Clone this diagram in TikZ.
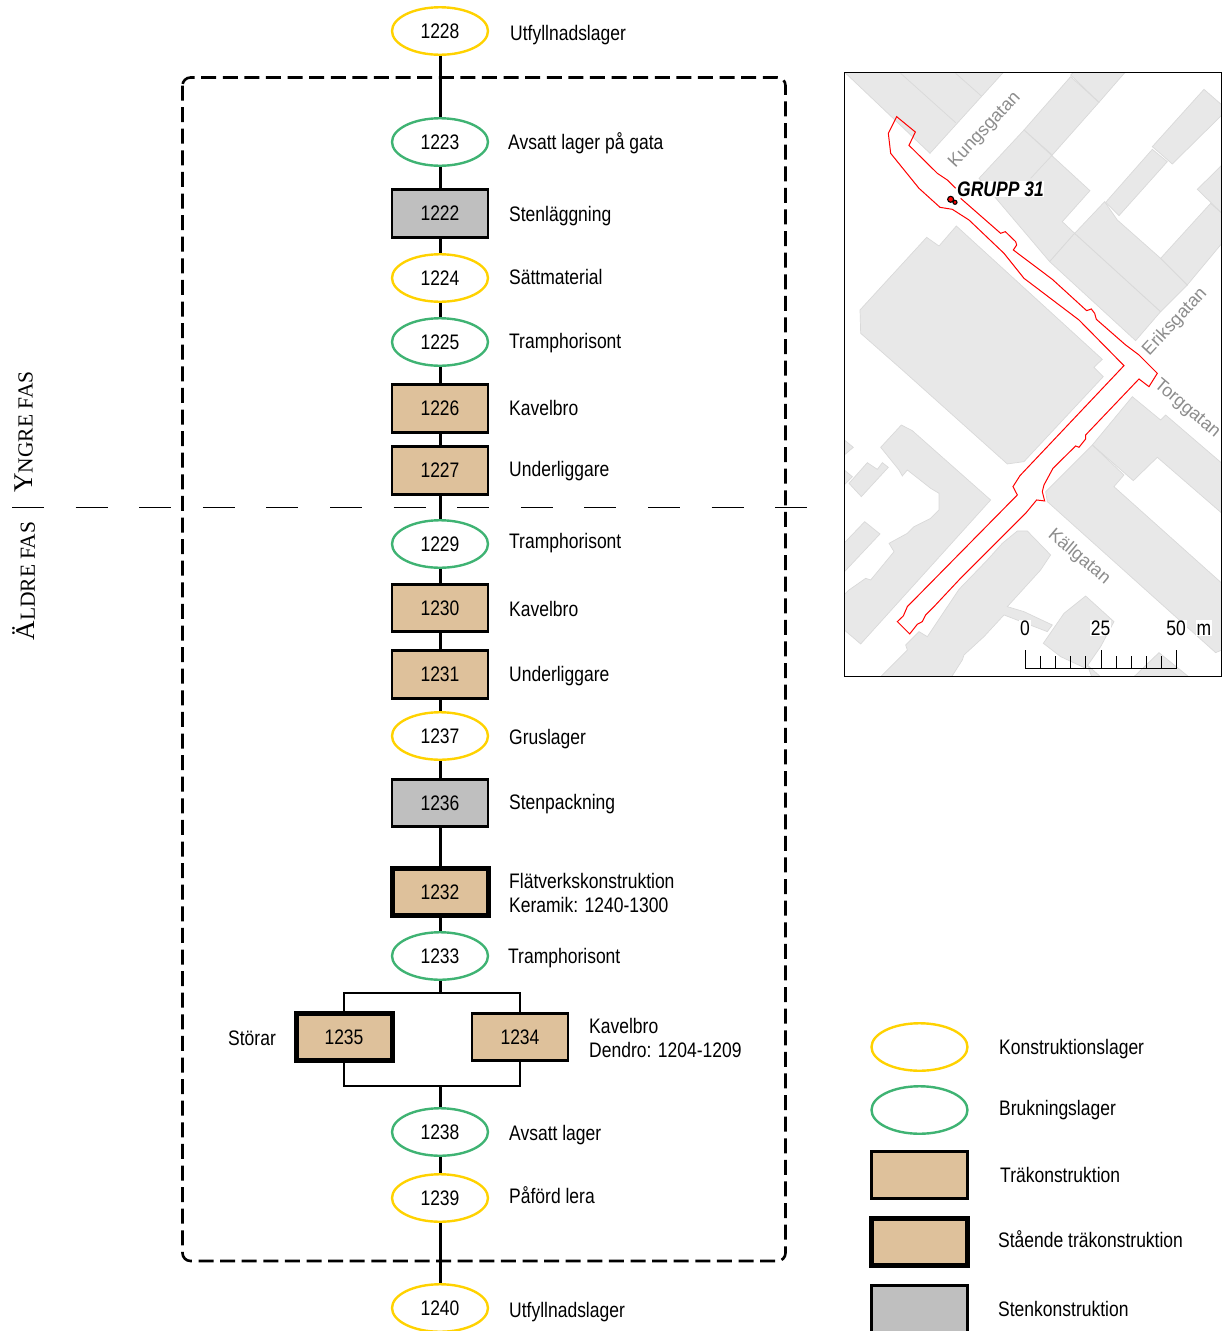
\documentclass[tikz,border=0pt]{standalone}
\usepackage{fontspec}
\usetikzlibrary{shapes.geometric}
\setmainfont[FakeStretch=0.833]{Liberation Sans}
\newfontfamily\mapfont{Liberation Sans}
\newfontfamily\phasefont{Liberation Serif}
\definecolor{yel}{HTML}{FFD200}
\definecolor{grn}{HTML}{3FB373}
\definecolor{tan}{HTML}{DEC19B}
\definecolor{stone}{HTML}{BFBFBF}
\definecolor{bld}{HTML}{E8E8E8}
\definecolor{bldedge}{HTML}{D9D9D9}
\definecolor{street}{HTML}{8C8C8C}
\tikzset{
 base/.style={inner sep=0pt,font=\fontsize{21}{24}\selectfont,text=black},
 konstr/.style={base,shape=ellipse,draw=yel,fill=white,line width=2.4pt,minimum width=96pt,minimum height=47.5pt},
 bruk/.style={base,shape=ellipse,draw=grn,fill=white,line width=2.4pt,minimum width=96pt,minimum height=47.5pt},
 wood/.style={base,shape=rectangle,draw=black,fill=tan,line width=2.6pt,minimum width=96pt,minimum height=47.5pt},
 woodup/.style={wood,line width=5pt},
 rock/.style={wood,fill=stone},
 lbl/.style={base,anchor=west,text height=14pt,text depth=0pt},
 lbltwo/.style={base,anchor=west,align=left},
 link/.style={line width=3pt,black},
 branch/.style={line width=2.6pt,black},
 bldg/.style={fill=bld,draw=bldedge,line width=0.7pt},
 divider/.style={draw=bldedge,line width=0.7pt},
 redline/.style={draw=red,line width=1pt,line join=miter},
 streetname/.style={inner sep=0pt,font=\mapfont\fontsize{18}{20}\selectfont,text=street},
 scalelbl/.style={base,fill=white,inner sep=1pt,text height=14pt,text depth=0pt},
 phase/.style={inner sep=0pt,rotate=90}
}
\begin{document}
\begin{tikzpicture}[x=1pt,y=-1pt]
\useasboundingbox (0,0) rectangle (1222,1331);
% ---- map ----
\begin{scope}
\clip (845,73) rectangle (1221,676);
\begin{scope}[shift={(844,70)},x=0.3333pt,y=-0.3333pt]
\path[bldg] (0,5)--(480,5)--(258,250)--cycle;
\draw[divider] (170,10)--(335,158) (335,10)--(412,78);
\path[bldg] (540,180)--(680,20)--(765,97)--(625,255)--cycle;
\path[bldg] (680,15)--(690,5)--(845,5)--(765,97)--cycle;
\path[bldg] (540,180)--(738,362)--(655,455)--(692,490)--(617,575)--(405,325)--cycle;
\draw[divider] (625,255)--(560,325);
\path[bldg] (617,575)--(692,490)--(950,725)--(875,812)--cycle;
\path[bldg] (692,490)--(782,395)--(820,450)--(950,565)--(1030,645)--(950,725)--cycle;
\path[bldg] (950,565)--(1100,400)--(1134,430)--(1134,520)--(1030,645)--cycle;
\path[bldg] (785,397)--(925,238)--(970,275)--(825,437)--cycle;
\path[bldg] (925,230)--(1080,58)--(1134,105)--(1134,135)--(985,282)--cycle;
\path[bldg] (1060,358)--(1134,285)--(1134,430)--cycle;
\path[bldg] (48,720)--(248,502)--(285,528)--(337,468)--(775,868)--(750,892)--(778,920)--(540,1175)--(490,1182)--(175,900)--(50,790)--cycle;
\end{scope}
\begin{scope}[shift={(844,370)},x=0.3333pt,y=-0.3333pt]
\path[bldg] (745,225)--(865,80)--(950,150)--(965,135)--(1134,280)--(1134,430)--(940,262)--(868,332)--cycle;
\path[bldg] (745,225)--(840,315)--(810,350)--(1134,640)--(1134,840)--(1115,848)--(610,395)--(605,365)--cycle;
\path[bldg] (110,232)--(172,165)--(205,182)--(440,390)--(50,822)--(-5,775)--(-5,680)--(15,660)--(65,625)--(80,630)--(150,545)--(135,520)--(190,490)--(210,470)--(260,445)--(285,420)--(285,370)--(260,355)--(190,300)--(175,318)--(165,300)--cycle;
\path[bldg] (15,340)--(70,278)--(100,298)--(115,278)--(133,292)--(52,380)--cycle;
\path[bldg] (-5,205)--(28,232)--(-5,260)--cycle;
\path[bldg] (-5,295)--(25,320)--(-5,350)--cycle;
\path[bldg] (-5,525)--(62,455)--(108,492)--(-5,612)--cycle;
\path[bldg] (105,925)--(190,840)--(185,825)--(225,785)--(250,800)--(345,658)--(430,570)--(475,520)--(520,483)--(550,483)--(620,555)--(590,600)--(490,710)--(540,725)--(625,765)--(610,785)--(480,735)--(420,800)--(360,855)--(355,870)--(320,925)--cycle;
\path[bldg] (598,820)--(660,730)--(725,678)--(810,755)--(770,830)--(725,895)--(650,860)--cycle;
\path[bldg] (865,925)--(945,848)--(1040,925)--cycle;
\path[bldg] (730,885)--(775,925)--(745,925)--cycle;
\end{scope}
% survey area outline
\begin{scope}[shift={(844,70)},x=0.3333pt,y=-0.3333pt]
\draw[redline] (335,355)--(310,330)--(280,310)--(195,226)--(214,186)--(158,140)--(133,190)--(140,250)--(225,355)--(288,412)--(325,418)--(375,450)--(480,550)--(540,625)--(705,750)--(840,887)
 --(528,1217)--(507,1250)--(520,1275)--(190,1610)--(178,1638)--(160,1655)--(197,1692)--(220,1663)--(235,1655)--(245,1635)--(270,1610)--(345,1530)--(545,1330)--(578,1290)--(602,1293)--(595,1265)--(600,1245)--(627,1195)--(695,1128)--(705,1132)--(725,1107)--(725,1095)--(885,927)--(915,950)--(940,910)--(885,855)--(845,825)--(757,748)--(752,730)--(742,717)--(728,722)--(625,628)--(508,540)--(518,525)--(515,515)--(484,485)--(470,490)--(350,385);
\end{scope}
\end{scope}
\node[streetname,rotate=47] (kungsg) at (985,130) {Kungsgatan};
\node[streetname,rotate=47] (eriksg) at (1175,322) {Eriksgatan};
\node[streetname,rotate=-40] (torgg) at (1187,409) {Torggatan};
\node[streetname,rotate=-40] (kallg) at (1079,557) {Källgatan};
\node[base,fill=white,inner sep=0.5pt,font=\fontsize{21}{22}\selectfont\bfseries\itshape] (grupp) at (1000.5,189) {GRUPP 31};
\begin{scope}[shift={(844,70)},x=0.3333pt,y=-0.3333pt]
\filldraw[fill=red,draw=black,line width=1.1pt] (320,388) circle[radius=9] (333,397) circle[radius=6];
\end{scope}
% scale bar
\node[scalelbl] (s0) at (1025,628) {0};
\node[scalelbl] (s25) at (1100.5,628) {25};
\node[scalelbl] (s50) at (1176,628) {50};
\node[scalelbl] (sm) at (1204,628) {m};
\coordinate (barL) at (1025.3,668.7);
\coordinate (barR) at (1176.7,668.7);
\draw[black,line width=1pt] (barL)--(barR);
\foreach \i in {0,...,10}{
  \pgfmathsetmacro{\tx}{1025.3+15.14*\i}
  \pgfmathsetmacro{\ty}{(\i==0||\i==5||\i==10)?650:655.5}
  \draw[black,line width=1pt] (\tx,668.7)--(\tx,\ty);
}
\draw[black,line width=1pt] (844.5,72.5) rectangle (1221.5,676.5);
% ---- phase frame ----
\draw[black,line width=2.6pt,dash pattern=on 15pt off 6.6pt,rounded corners=8pt] (182.5,77.5) rectangle (785.5,1261);
\draw[black,line width=1pt,dash pattern=on 32pt off 31.6pt] (12,507)--(808,507);
\node[phase] (yngre) at (24,432) {\phasefont{\fontsize{27}{27}\selectfont Y\fontsize{21.5}{27}\selectfont NGRE FAS}};
\node[phase] (aldre) at (24,581) {\phasefont{\fontsize{27}{27}\selectfont Ä\fontsize{21.5}{27}\selectfont LDRE FAS}};
% ---- matrix ----
\node[konstr] (n1228) at (440,31) {1228};
\node[bruk]   (n1223) at (440,142) {1223};
\node[rock]   (n1222) at (440,213.5) {1222};
\node[konstr] (n1224) at (440,278) {1224};
\node[bruk]   (n1225) at (440,342) {1225};
\node[wood]   (n1226) at (440,408.5) {1226};
\node[wood]   (n1227) at (440,470.5) {1227};
\node[bruk]   (n1229) at (440,544) {1229};
\node[wood]   (n1230) at (440,608) {1230};
\node[wood]   (n1231) at (440,674.5) {1231};
\node[konstr] (n1237) at (440,736) {1237};
\node[rock]   (n1236) at (440,803) {1236};
\node[woodup] (n1232) at (440,892) {1232};
\node[bruk]   (n1233) at (440,956) {1233};
\node[woodup] (n1235) at (344,1037) {1235};
\node[wood]   (n1234) at (520,1037) {1234};
\node[bruk]   (n1238) at (440,1132) {1238};
\node[konstr] (n1239) at (440,1198) {1239};
\node[konstr] (n1240) at (440,1308) {1240};
\coordinate (splitM) at (440,993);
\coordinate (splitL) at (344,993);
\coordinate (splitR) at (520,993);
\coordinate (joinM) at (440,1086);
\coordinate (joinL) at (344,1086);
\coordinate (joinR) at (520,1086);
\foreach \a/\b in {n1228/n1223,n1223/n1222,n1222/n1224,n1224/n1225,n1225/n1226,n1226/n1227,n1227/n1229,n1229/n1230,n1230/n1231,n1231/n1237,n1237/n1236,n1236/n1232,n1232/n1233,n1238/n1239,n1239/n1240}
  \draw[link] (\a)--(\b);
\draw[link] (n1233)--(splitM);
\draw[link] (joinM)--(n1238);
\draw[branch] (n1235)--(splitL)--(splitR)--(n1234);
\draw[branch] (n1235)--(joinL)--(joinR)--(n1234);
% ---- labels ----
\node[lbl] (t1228) at (510,33) {Utfyllnadslager};
\node[lbl] (t1223) at (508,142) {Avsatt lager på gata};
\node[lbl] (t1222) at (509,214) {Stenläggning};
\node[lbl] (t1224) at (509,277) {Sättmaterial};
\node[lbl] (t1225) at (509,341) {Tramphorisont};
\node[lbl] (t1226) at (509,408) {Kavelbro};
\node[lbl] (t1227) at (509,469) {Underliggare};
\node[lbl] (t1229) at (509,541) {Tramphorisont};
\node[lbl] (t1230) at (509,609) {Kavelbro};
\node[lbl] (t1231) at (509,674) {Underliggare};
\node[lbl] (t1237) at (509,737) {Gruslager};
\node[lbl] (t1236) at (509,802) {Stenpackning};
\node[lbltwo] (t1232) at (509,893) {Flätverkskonstruktion\\Keramik: 1240-1300};
\node[lbl] (t1233) at (508,956) {Tramphorisont};
\node[lbltwo] (t1234) at (589,1038) {Kavelbro\\Dendro: 1204-1209};
\node[lbl] (t1235) at (228,1038) {Störar};
\node[lbl] (t1238) at (509,1133) {Avsatt lager};
\node[lbl] (t1239) at (509,1196) {Påförd lera};
\node[lbl] (t1240) at (509,1310) {Utfyllnadslager};
% ---- legend ----
\node[konstr] (lega) at (919.5,1047) {};
\node[bruk]   (legb) at (919.5,1110) {};
\node[wood]   (legc) at (919.5,1175) {};
\node[woodup] (legd) at (919.5,1242) {};
\node[rock]   (lege) at (919.5,1309) {};
\node[lbl] (tlega) at (999,1047) {Konstruktionslager};
\node[lbl] (tlegb) at (999,1108) {Brukningslager};
\node[lbl] (tlegc) at (1000,1175) {Träkonstruktion};
\node[lbl] (tlegd) at (998,1240) {Stående träkonstruktion};
\node[lbl] (tlege) at (998,1309) {Stenkonstruktion};
\end{tikzpicture}
\end{document}
